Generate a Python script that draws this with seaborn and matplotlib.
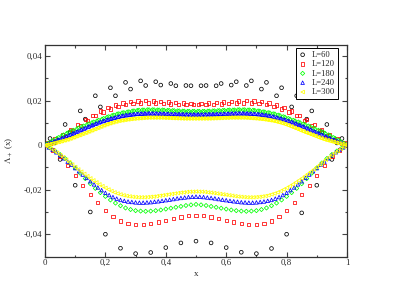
import numpy as np
import pandas as pd
import matplotlib
matplotlib.use("Agg")
import matplotlib.pyplot as plt
import seaborn as sns
from matplotlib.ticker import MultipleLocator

# ---------------- data (values in units of 1e-3) ----------------
chain_sizes = [60, 120, 180, 240, 300]
series_labels = ["L=60", "L=120", "L=180", "L=240", "L=300"]

x_ticks = [0, 0.2, 0.4, 0.6, 0.8, 1.0]
x_tick_labels = ["0", "0,2", "0,4", "0,6", "0,8", "1"]
y_ticks = [-0.04, -0.02, 0.0, 0.02, 0.04]
y_tick_labels = ["-0,04", "-0,02", "0", "0,02", "0,04"]

# upper branch: sites i = 1..L-1 with i % 3 != 0 ; lower branch: i = 0, 3, ..., L
up60 = [3.0, 1.0, 9.3, 6.0, 15.4, 11.7, 22.2, 17.2, 25.8, 22.2, 28.2, 25.2, 28.9, 26.8, 28.5, 27.0, 27.7, 26.7, 26.8, 26.7,
        26.7, 26.8, 26.7, 27.7, 27.0, 28.5, 26.8, 28.9, 25.2, 28.2, 22.2, 25.8, 17.2, 22.2, 11.7, 15.4, 6.0, 9.3, 1.0, 3.0]
lo60 = [0, -6.4, -18.0, -30.0, -40.0, -46.3, -48.7, -48.2, -46.0, -43.9, -43.1, -43.9, -46.0, -48.1, -48.7, -46.4,
        -40.0, -30.4, -18.0, -6.4, 0]

up120 = [1.1, 0.7, 2.9, 2.5, 4.8, 4.5, 6.9, 6.7, 9.2, 8.9, 11.4, 11.2, 13.5, 13.2, 15.3, 14.9, 16.8, 16.3, 18.0, 17.4,
         18.9, 18.2, 19.5, 18.7, 19.9, 18.9, 20.0, 19.0, 19.8, 18.9, 19.6, 18.7, 19.4, 18.5, 19.1, 18.4, 18.9, 18.2, 18.7, 18.2,
         18.2, 18.7, 18.2, 18.9, 18.4, 19.1, 18.5, 19.4, 18.7, 19.6, 18.9, 19.8, 19.0, 20.0, 18.9, 19.9, 18.7, 19.5, 18.2, 18.9,
         17.4, 18.0, 16.3, 16.8, 14.9, 15.3, 13.2, 13.5, 11.2, 11.4, 8.9, 9.2, 6.7, 6.9, 4.5, 4.8, 2.5, 2.9, 0.7, 1.1]
lo120 = [0, -2.2, -5.2, -9.0, -13.5, -18.0, -22.0, -25.7, -29.2, -31.9, -34.0, -35.3, -35.6, -35.6, -35.2, -34.5, -33.7,
         -32.9, -32.2, -31.7, -31.5,
         -31.7, -32.2, -32.9, -33.7, -34.5, -35.2, -35.6, -35.6, -35.3, -34.0, -31.9, -29.2, -25.7, -22.0, -18.0, -13.5,
         -9.0, -5.2, -2.2, 0]

up180 = [0.45, 0.9, 1.75, 2.2, 3.0, 3.4, 4.2, 4.6, 5.3, 5.7, 6.3, 6.7, 7.3, 7.7, 8.3, 8.6, 9.2, 9.5, 10.1, 10.4,
         10.9, 11.2, 11.7, 12.0, 12.6, 12.8, 13.3, 13.5, 14.0, 14.1, 14.5, 14.6, 14.9, 15.0, 15.3, 15.4, 15.6, 15.7, 15.8, 15.8,
         15.9, 15.9, 15.9, 15.9, 15.8, 15.8, 15.8, 15.7, 15.6, 15.6, 15.5, 15.5, 15.4, 15.4, 15.3, 15.3, 15.2, 15.2, 15.2, 15.2,
         15.2, 15.2, 15.2, 15.2, 15.3, 15.3, 15.4, 15.4, 15.5, 15.5, 15.6, 15.6, 15.7, 15.8, 15.8, 15.8, 15.9, 15.9, 15.9, 15.9,
         15.8, 15.8, 15.7, 15.6, 15.4, 15.3, 15.0, 14.9, 14.6, 14.5, 14.1, 14.0, 13.5, 13.3, 12.8, 12.6, 12.0, 11.7, 11.2, 10.9,
         10.4, 10.1, 9.5, 9.2, 8.6, 8.3, 7.7, 7.3, 6.7, 6.3, 5.7, 5.3, 4.6, 4.2, 3.4, 3.0, 2.2, 1.75, 0.9, 0.45]
lo180 = [0, -1.2, -2.6, -4.2, -6.0, -8.0, -10.2, -12.6, -15.0, -17.3, -19.4, -21.3, -23.0, -24.6, -26.0, -27.2, -28.2,
         -28.9, -29.4, -29.6, -29.7, -29.6, -29.4, -29.1, -28.7, -28.3, -27.9, -27.5, -27.1, -26.8, -26.6,
         -26.8, -27.1, -27.5, -27.9, -28.3, -28.7, -29.1, -29.4, -29.6, -29.7, -29.6, -29.4, -28.9, -28.2, -27.2, -26.0,
         -24.6, -23.0, -21.3, -19.4, -17.3, -15.0, -12.6, -10.2, -8.0, -6.0, -4.2, -2.6, -1.2, 0]

up240 = [0.23, 0.46, 0.92, 1.15, 1.6, 1.83, 2.3, 2.5, 3.0, 3.2, 3.7, 3.95, 4.45, 4.7, 5.2, 5.45, 5.95, 6.2, 6.7, 6.95,
         7.45, 7.7, 8.2, 8.45, 8.9, 9.1, 9.55, 9.8, 10.25, 10.45, 10.8, 11.0, 11.35, 11.5, 11.85, 12.0, 12.3, 12.45, 12.75, 12.9,
         13.1, 13.25, 13.45, 13.5, 13.7, 13.75, 13.9, 13.95, 14.05, 14.1, 14.15, 14.2, 14.25, 14.25, 14.3, 14.3, 14.3, 14.3, 14.3, 14.25,
         14.2, 14.2, 14.15, 14.1, 14.1, 14.05, 14.0, 14.0, 13.95, 13.95, 13.9, 13.9, 13.9, 13.9, 13.85, 13.85, 13.8, 13.8, 13.8, 13.8,
         13.8, 13.8, 13.8, 13.8, 13.85, 13.85, 13.9, 13.9, 13.9, 13.9, 13.95, 13.95, 14.0, 14.0, 14.05, 14.1, 14.1, 14.15, 14.2, 14.2,
         14.25, 14.3, 14.3, 14.3, 14.3, 14.3, 14.25, 14.25, 14.2, 14.15, 14.1, 14.05, 13.95, 13.9, 13.75, 13.7, 13.5, 13.45, 13.25, 13.1,
         12.9, 12.75, 12.45, 12.3, 12.0, 11.85, 11.5, 11.35, 11.0, 10.8, 10.45, 10.25, 9.8, 9.55, 9.1, 8.9, 8.45, 8.2, 7.7, 7.45,
         6.95, 6.7, 6.2, 5.95, 5.45, 5.2, 4.7, 4.45, 3.95, 3.7, 3.2, 3.0, 2.5, 2.3, 1.83, 1.6, 1.15, 0.92, 0.46, 0.23]
lo240 = [0, -1.0, -2.0, -3.2, -4.5, -5.9, -7.4, -8.8, -10.3, -11.7, -13.2, -14.7, -16.2, -17.6, -19.0, -20.2, -21.4,
         -22.4, -23.3, -24.0, -24.6, -25.0, -25.3, -25.5, -25.7, -25.8, -25.8, -25.7, -25.6, -25.4, -25.2, -25.0, -24.7,
         -24.5, -24.2, -23.9, -23.7, -23.5, -23.3, -23.2, -23.1,
         -23.2, -23.3, -23.5, -23.7, -23.9, -24.2, -24.5, -24.7, -25.0, -25.2, -25.4, -25.6, -25.7, -25.8, -25.8, -25.7,
         -25.5, -25.3, -25.0, -24.6, -24.0, -23.3, -22.4, -21.4, -20.2, -19.0, -17.6, -16.2, -14.7, -13.2, -11.7, -10.3,
         -8.8, -7.4, -5.9, -4.5, -3.2, -2.0, -1.0, 0]

up300 = [0.1, 0.2, 0.4, 0.5, 0.7, 0.8, 1.05, 1.2, 1.4, 1.5, 1.75, 1.9, 2.15, 2.25, 2.5, 2.65, 2.95, 3.15, 3.45, 3.6,
         4.0, 4.2, 4.5, 4.7, 5.05, 5.25, 5.55, 5.7, 6.1, 6.25, 6.6, 6.8, 7.2, 7.35, 7.75, 7.9, 8.3, 8.45, 8.85, 9.0,
         9.35, 9.5, 9.8, 9.95, 10.2, 10.35, 10.55, 10.7, 10.9, 11.0, 11.15, 11.2, 11.35, 11.45, 11.55, 11.65, 11.75, 11.8, 11.9, 11.95,
         12.05, 12.05, 12.15, 12.15, 12.25, 12.25, 12.35, 12.35, 12.4, 12.4, 12.4, 12.4, 12.4, 12.4, 12.4, 12.4, 12.4, 12.4, 12.35, 12.3,
         12.3, 12.3, 12.25, 12.2, 12.2, 12.15, 12.15, 12.1, 12.1, 12.05, 12.05, 12.0, 12.0, 12.0, 12.0, 12.0, 12.0, 12.0, 12.0, 12.0,
         12.0, 12.0, 12.0, 12.0, 12.0, 12.0, 12.0, 12.0, 12.0, 12.05, 12.05, 12.1, 12.1, 12.15, 12.15, 12.2, 12.2, 12.25, 12.3, 12.3,
         12.3, 12.35, 12.4, 12.4, 12.4, 12.4, 12.4, 12.4, 12.4, 12.4, 12.4, 12.4, 12.35, 12.35, 12.25, 12.25, 12.15, 12.15, 12.05, 12.05,
         11.95, 11.9, 11.8, 11.75, 11.65, 11.55, 11.45, 11.35, 11.2, 11.15, 11.0, 10.9, 10.7, 10.55, 10.35, 10.2, 9.95, 9.8, 9.5, 9.35,
         9.0, 8.85, 8.45, 8.3, 7.9, 7.75, 7.35, 7.2, 6.8, 6.6, 6.25, 6.1, 5.7, 5.55, 5.25, 5.05, 4.7, 4.5, 4.2, 4.0,
         3.6, 3.45, 3.15, 2.95, 2.65, 2.5, 2.25, 2.15, 1.9, 1.75, 1.5, 1.4, 1.2, 1.05, 0.8, 0.7, 0.5, 0.4, 0.2, 0.1]
lo300 = [0, -0.8, -1.6, -2.5, -3.4, -4.4, -5.4, -6.5, -7.6, -8.7, -9.8, -10.9, -11.9, -12.9, -13.9, -14.9, -15.8,
         -16.7, -17.6, -18.4, -19.2, -19.9, -20.6, -21.2, -21.7, -22.1, -22.5, -22.8, -23.0, -23.2, -23.3, -23.4, -23.4,
         -23.4, -23.3, -23.2, -23.1, -22.9, -22.7, -22.5, -22.3, -22.1, -21.9, -21.7, -21.5, -21.3, -21.2, -21.0, -20.9,
         -20.9, -20.8,
         -20.9, -20.9, -21.0, -21.2, -21.3, -21.5, -21.7, -21.9, -22.1, -22.3, -22.5, -22.7, -22.9, -23.1, -23.2, -23.3,
         -23.4, -23.4, -23.4, -23.3, -23.2, -23.0, -22.8, -22.5, -22.1, -21.7, -21.2, -20.6, -19.9, -19.2, -18.4, -17.6,
         -16.7, -15.8, -14.9, -13.9, -12.9, -11.9, -10.9, -9.8, -8.7, -7.6, -6.5, -5.4, -4.4, -3.4, -2.5, -1.6, -0.8, 0]

upper_branches = [up60, up120, up180, up240, up300]
lower_branches = [lo60, lo120, lo180, lo240, lo300]

# ---------------- style ----------------
markers = ["o", "s", "D", "^", "<"]
colors = ["#000000", "#ff0000", "#00ff00", "#0000ff", "#ffff00"]
msizes = [7, 5.5, 4.5, 6.5, 6.5]

sns.set_style("ticks")
plt.rcParams["font.family"] = ["Liberation Serif", "DejaVu Serif"]
plt.rcParams["mathtext.fontset"] = "stix"

rows = []
for L, lab, up, lo in zip(chain_sizes, series_labels, upper_branches, lower_branches):
    xu = [i / L for i in range(1, L) if i % 3]
    xl = [i / L for i in range(0, L + 1, 3)]
    assert len(xu) == len(up), (lab, len(xu), len(up))
    assert len(xl) == len(lo), (lab, len(xl), len(lo))
    for xv, yv in zip(xu, up):
        rows.append((lab, xv, yv * 1e-3))
    for xv, yv in zip(xl, lo):
        rows.append((lab, xv, yv * 1e-3))
df = pd.DataFrame(rows, columns=["series", "x", "y"])

fig = plt.figure(figsize=(4.15, 2.94), dpi=100)
ax = fig.add_axes([45 / 415, 1 - 256.5 / 294, 302 / 415, 211.5 / 294])
ax.set_facecolor("white")

for lab, mk, col, ms in zip(series_labels, markers, colors, msizes):
    sub = df[df["series"] == lab]
    sns.scatterplot(data=sub, x="x", y="y", marker=mk, s=ms, color=col,
                    facecolors="none", edgecolor=col, linewidth=0.55,
                    label=lab, ax=ax, legend=False, zorder=3)

ax.set_xlim(0, 1)
ax.set_ylim(-0.05, 0.045)
ax.set_xticks(x_ticks)
ax.set_xticklabels(x_tick_labels)
ax.set_yticks(y_ticks)
ax.set_yticklabels(y_tick_labels)
ax.xaxis.set_minor_locator(MultipleLocator(0.1))
ax.yaxis.set_minor_locator(MultipleLocator(0.01))
ax.tick_params(which="both", direction="in", top=True, right=True, labelsize=6.3,
               color="#444444", width=0.8)
ax.tick_params(which="major", length=3.5, pad=2)
ax.tick_params(which="minor", length=1.8)
for sp in ax.spines.values():
    sp.set_linewidth(0.9)
    sp.set_color("#333333")
    sp.set_visible(True)

ax.set_xlabel("x", fontsize=6.5, labelpad=2)
ax.set_ylabel(r"$\Lambda_+$ (x)", fontsize=6.5, labelpad=6)

leg = ax.legend(loc="upper right", bbox_to_anchor=(0.97, 0.986), fontsize=6.2,
                frameon=True, fancybox=False, edgecolor="black", framealpha=1,
                borderpad=0.35, labelspacing=0.15, handlelength=0.9, handletextpad=0.6,
                borderaxespad=0, markerscale=1.0)
leg.get_frame().set_linewidth(0.7)

fig.savefig("out.png", dpi=100, facecolor="white")
